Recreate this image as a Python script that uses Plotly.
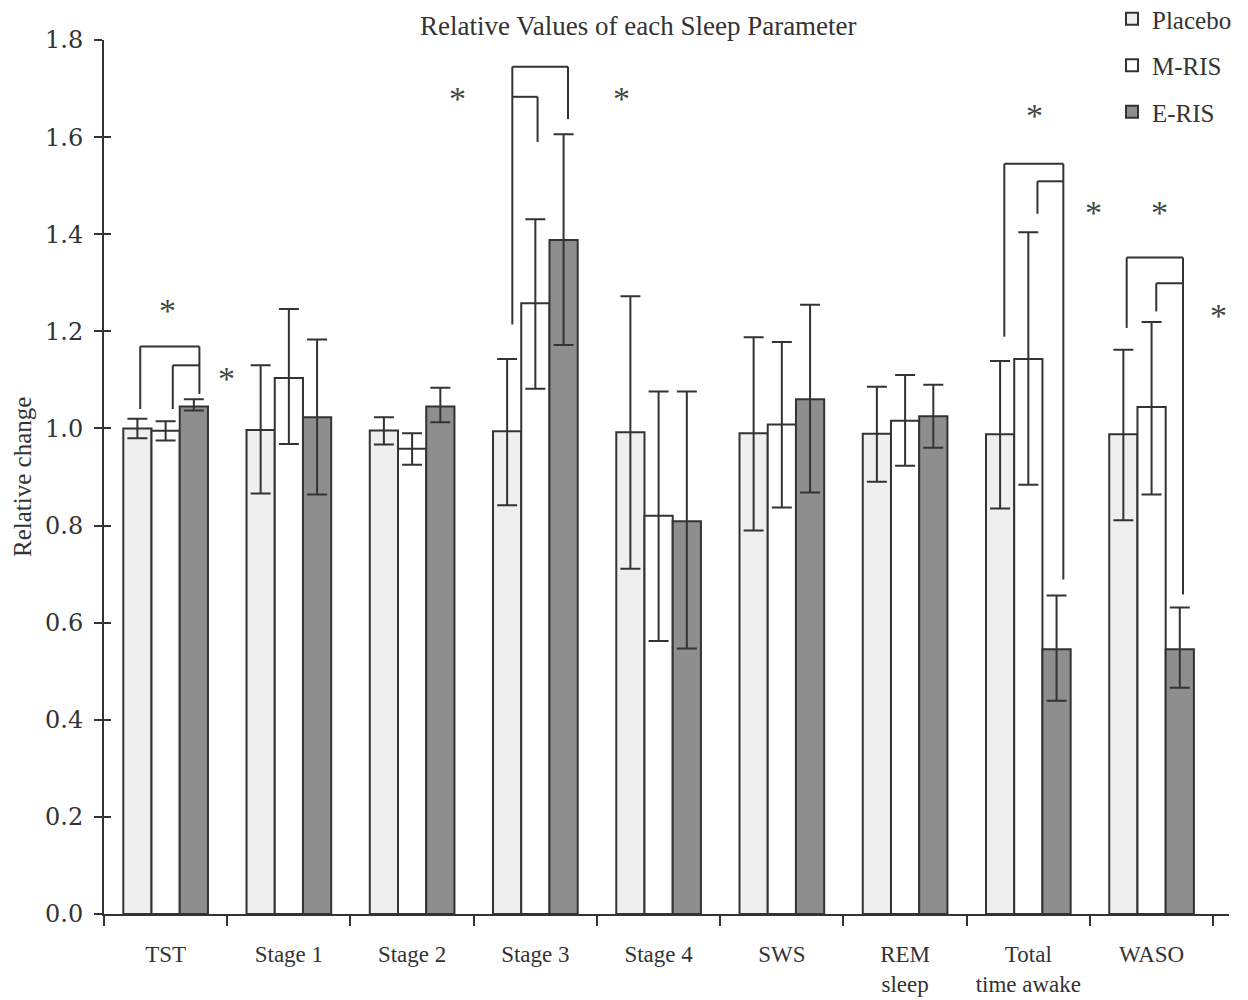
import plotly.graph_objects as go

# ---------------- data ----------------
categories = ["TST", "Stage 1", "Stage 2", "Stage 3", "Stage 4", "SWS",
              "REM<br>sleep", "Total<br>time awake", "WASO"]

placebo      = [1.000, 0.997, 0.996, 0.994, 0.992, 0.990, 0.989, 0.988, 0.988]
placebo_hi   = [1.020, 1.130, 1.023, 1.143, 1.272, 1.188, 1.086, 1.139, 1.162]
placebo_lo   = [0.980, 0.866, 0.967, 0.842, 0.711, 0.790, 0.890, 0.835, 0.811]

mris         = [0.995, 1.104, 0.958, 1.258, 0.820, 1.008, 1.016, 1.143, 1.044]
mris_hi      = [1.015, 1.246, 0.990, 1.431, 1.076, 1.178, 1.110, 1.404, 1.219]
mris_lo      = [0.975, 0.968, 0.925, 1.082, 0.562, 0.837, 0.923, 0.884, 0.864]

eris         = [1.045, 1.023, 1.045, 1.388, 0.809, 1.060, 1.025, 0.545, 0.545]
eris_hi      = [1.060, 1.183, 1.084, 1.606, 1.076, 1.255, 1.090, 0.656, 0.631]
eris_lo      = [1.037, 0.864, 1.013, 1.172, 0.547, 0.868, 0.960, 0.439, 0.466]

y_ticks = [0.0, 0.2, 0.4, 0.6, 0.8, 1.0, 1.2, 1.4, 1.6, 1.8]

# significance brackets: category index, left/right offsets (in category units),
# top level, left-leg bottom, right-leg bottom (None = no leg)
br_cat   = [0, 0, 3, 3, 7, 7, 8, 8]
br_left  = [-0.206, 0.058, -0.187, -0.187, -0.195, 0.074, -0.202, 0.038]
br_right = [0.274, 0.274, 0.265, 0.018, 0.284, 0.284, 0.255, 0.255]
br_top   = [1.169, 1.130, 1.745, 1.683, 1.545, 1.509, 1.352, 1.299]
br_lbot  = [1.040, 1.040, 1.214, None, 1.189, 1.442, 1.207, 1.241]
br_rbot  = [1.071, None, 1.637, 1.590, 0.689, None, 0.658, None]

# asterisk positions (category units, value units)
star_x = [0.014, 0.495, 2.371, 3.697, 7.05, 7.53, 8.064, 8.543]
star_y = [1.263, 1.123, 1.700, 1.700, 1.665, 1.465, 1.465, 1.253]

# ---------------- figure ----------------
LINE = "#333333"
SERIF = "Liberation Serif, Times New Roman, serif"

# the page body has an 8px margin, so the figure is drawn 8px in from the window edge
W, H = 1240, 992
ML, MT, MR, MB = 96, 32, 19, 86
PW, PH = W - ML - MR, H - MT - MB


def err(vals, hi, lo):
    return dict(type="data", symmetric=False,
                array=[h - v for h, v in zip(hi, vals)],
                arrayminus=[v - l for v, l in zip(vals, lo)],
                color=LINE, thickness=2, width=10)


fig = go.Figure()
fig.add_trace(go.Bar(name="Placebo", x=categories, y=placebo,
                     marker=dict(color="#efefef", line=dict(color=LINE, width=2)),
                     error_y=err(placebo, placebo_hi, placebo_lo), legendgroup="a"))
fig.add_trace(go.Bar(name="M-RIS", x=categories, y=mris,
                     marker=dict(color="#ffffff", line=dict(color=LINE, width=2)),
                     error_y=err(mris, mris_hi, mris_lo), legendgroup="b"))
fig.add_trace(go.Bar(name="E-RIS", x=categories, y=eris,
                     marker=dict(color="#8e8e8e", line=dict(color=LINE, width=2)),
                     error_y=err(eris, eris_hi, eris_lo), legendgroup="c"))

# brackets
shapes = []
for c, xl, xr, t, lb, rb in zip(br_cat, br_left, br_right, br_top, br_lbot, br_rbot):
    x0, x1 = c + xl, c + xr
    style = dict(type="line", xref="x", yref="y", line=dict(color=LINE, width=2), layer="above")
    shapes.append(dict(x0=x0, x1=x1, y0=t, y1=t, **style))
    if lb is not None:
        shapes.append(dict(x0=x0, x1=x0, y0=lb, y1=t, **style))
    if rb is not None:
        shapes.append(dict(x0=x1, x1=x1, y0=rb, y1=t, **style))

annotations = []
for sx, sy in zip(star_x, star_y):
    annotations.append(dict(x=sx, y=sy, xref="x", yref="y", text="*", showarrow=False,
                            font=dict(family=SERIF, size=34, color="#3d4a42"),
                            yanchor="middle", yshift=-10))


def px_x(px):  # screen pixel -> paper x
    return (px - 8 - ML) / PW


def px_y(py):  # screen pixel -> paper y
    return 1 - (py - 8 - MT) / PH


# title
annotations.append(dict(x=px_x(638), y=px_y(9), xref="paper", yref="paper",
                        text="Relative Values of each Sleep Parameter", showarrow=False,
                        font=dict(family=SERIF, size=27, color="#333333"),
                        xanchor="center", yanchor="top"))
# y axis title
annotations.append(dict(x=px_x(22), y=px_y(477), xref="paper", yref="paper",
                        text="Relative change", showarrow=False, textangle=-90,
                        font=dict(family=SERIF, size=25, color="#333333"),
                        xanchor="center", yanchor="middle"))

fig.update_layout(
    width=W, height=H,
    margin=dict(l=ML, t=MT, r=MR, b=MB, autoexpand=False),
    paper_bgcolor="white", plot_bgcolor="white",
    barmode="group", bargap=0.313, bargroupgap=0,
    shapes=shapes, annotations=annotations,
    showlegend=True,
    legend=dict(x=px_x(1112), y=px_y(-4), xanchor="left", yanchor="top",
                font=dict(family=SERIF, size=25, color="#333333"),
                traceorder="grouped", tracegroupgap=11, bgcolor="rgba(0,0,0,0)"),
    xaxis=dict(type="category", showline=True, linecolor=LINE, linewidth=2,
               ticks="outside", tickson="boundaries", ticklen=10, tickwidth=2, tickcolor=LINE,
               tickangle=0,
               tickfont=dict(family=SERIF, size=23, color="#333333"),
               ticklabelstandoff=18, showgrid=False, zeroline=False),
    yaxis=dict(range=[0, 1.8], tickvals=y_ticks, ticktext=[f"{v:.1f}" for v in y_ticks],
               showline=True, linecolor=LINE, linewidth=2,
               ticks="outside", ticklen=8, tickwidth=2, tickcolor=LINE,
               tickfont=dict(family="DejaVu Serif, serif", size=24, color="#333333"),
               ticklabelstandoff=6, showgrid=False, zeroline=False),
    yaxis2=dict(range=[0, 1.8], tickvals=y_ticks, overlaying="y", side="left",
                ticks="inside", ticklen=7, tickwidth=2, tickcolor=LINE,
                showticklabels=False, showgrid=False, zeroline=False, showline=False),
)
fig.add_trace(go.Scatter(x=[categories[0]], y=[0], yaxis="y2", mode="markers",
                         marker=dict(opacity=0), showlegend=False, hoverinfo="skip"))

fig.write_html("out.html")
